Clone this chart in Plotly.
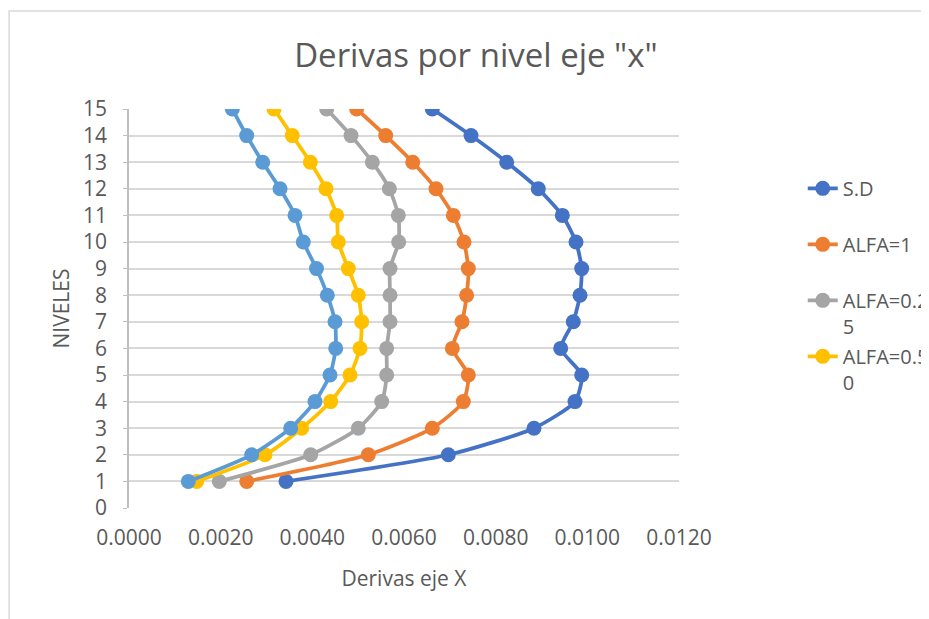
import plotly.graph_objects as go

# Niveles (eje Y) y derivas por serie (eje X)
niveles = list(range(1, 16))

deriva_sd = [0.003425, 0.006967, 0.008836, 0.009731, 0.009877, 0.009419, 0.009694, 0.009840,
             0.009877, 0.009753, 0.009454, 0.008930, 0.008240, 0.007462, 0.006618]
deriva_alfa_1 = [0.002568, 0.005221, 0.006618, 0.007294, 0.007403, 0.007054, 0.007265, 0.007367,
                 0.007403, 0.007309, 0.007076, 0.006698, 0.006190, 0.005600, 0.004967]
deriva_alfa_025 = [0.001970, 0.003964, 0.005003, 0.005513, 0.005622, 0.005622, 0.005695, 0.005695,
                   0.005695, 0.005884, 0.005876, 0.005680, 0.005309, 0.004844, 0.004313]
deriva_alfa_050 = [0.001477, 0.002967, 0.003768, 0.004401, 0.004822, 0.005040, 0.005077, 0.005003,
                   0.004785, 0.004567, 0.004531, 0.004298, 0.003956, 0.003563, 0.003164]
deriva_alfa_075 = [0.001294, 0.002677, 0.003528, 0.004058, 0.004385, 0.004510, 0.004495, 0.004327,
                   0.004091, 0.003803, 0.003622, 0.003295, 0.002917, 0.002568, 0.002254]

x_ticks = [0, 0.002, 0.004, 0.006, 0.008, 0.010, 0.012]

FONT = "Open Sans, sans-serif"
TXT = "#595959"

# legend labels wrapped like the Excel legend (trailing blank line keeps rows even)
series = [
    ("S.D<br> ", deriva_sd, "#4472C4", True),
    ("ALFA=1<br> ", deriva_alfa_1, "#ED7D31", True),
    ("ALFA=0.2<br>5", deriva_alfa_025, "#A5A5A5", True),
    ("ALFA=0.5<br>0", deriva_alfa_050, "#FFC000", True),
    ("ALFA=0.75", deriva_alfa_075, "#5B9BD5", False),
]

fig = go.Figure()
for i, (name, xs, color, show) in enumerate(series):
    fig.add_trace(go.Scatter(
        x=xs, y=niveles, name=name, mode="lines+markers",
        line=dict(color=color, width=3.75, shape="spline", smoothing=0.6),
        marker=dict(size=15, color=color),
        showlegend=show, legendgroup=f"g{i}",
    ))

fig.update_layout(
    width=929, height=619,
    plot_bgcolor="white", paper_bgcolor="white",
    margin=dict(l=121, r=258, t=101, b=119, autoexpand=False),
    font=dict(family=FONT, size=21, color=TXT),
    title=dict(text='Derivas por nivel eje "x"', x=0.5037, xanchor="center",
               y=0.923, yanchor="middle", font=dict(size=33, color=TXT)),
    legend=dict(x=1.225, y=0.85, xanchor="left", yanchor="top",
                traceorder="grouped", tracegroupgap=1, valign="top",
                font=dict(size=20, color=TXT), bgcolor="rgba(0,0,0,0)"),
    shapes=[dict(type="rect", xref="paper", yref="paper",
                 x0=-0.218, x1=1.6, y0=-0.5, y1=1.2456,
                 line=dict(color="#D9D9D9", width=1.5), layer="below")],
)
fig.update_xaxes(
    range=[0, 0.012], tickvals=x_ticks, tickformat=".4f",
    showgrid=False, zeroline=False, showline=False, ticks="",
    ticklabelstandoff=15,
    title=dict(text="Derivas eje X", font=dict(size=21, color=TXT), standoff=21),
)
fig.update_yaxes(
    range=[0, 15], dtick=1, showgrid=True, gridcolor="#D9D9D9", gridwidth=1.5,
    zeroline=False, showline=True, linecolor="#BFBFBF", linewidth=1.5,
    ticks="outside", ticklen=4, tickcolor="#BFBFBF", ticklabelstandoff=12,
    title=dict(text="NIVELES", font=dict(size=21, color=TXT), standoff=8),
)

fig.write_html("out.html")
